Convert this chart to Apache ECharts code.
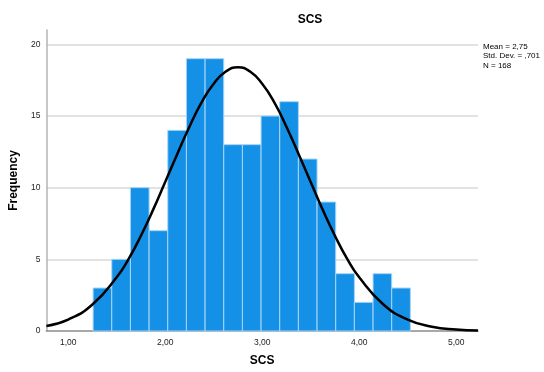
<!DOCTYPE html>
<html>
<head>
<meta charset="utf-8">
<script src="https://cdn.jsdelivr.net/npm/echarts@6/dist/echarts.min.js"></script>
<style>
  html, body { margin: 0; padding: 0; background: #fff; }
  #chart { width: 544px; height: 372px; }
</style>
</head>
<body>
<div id="chart"></div>
<script>
// histogram bins (lower edge of first bin, bin width) and counts
var binStart = 1.257;
var binWidth = 0.1924;
var counts = [3, 5, 10, 7, 14, 19, 19, 13, 13, 15, 16, 12, 9, 4, 2, 4, 3];

// normal curve
var curveX = [0.775, 1.0, 1.25, 1.5, 1.625, 1.75, 1.875, 2.0, 2.125, 2.25, 2.375, 2.5, 2.625, 2.75,
              2.875, 3.0, 3.125, 3.25, 3.375, 3.5, 3.625, 3.75, 3.875, 4.0, 4.25, 4.5, 4.75, 5.0, 5.225];
var curveY = [0.35, 0.8, 1.85, 3.75, 5.05, 6.65, 8.45, 10.4, 12.35, 14.25, 15.95, 17.25, 18.1, 18.4,
              18.1, 17.25, 15.95, 14.25, 12.35, 10.4, 8.45, 6.65, 5.05, 3.75, 1.85, 0.8, 0.3, 0.1, 0.03];

var xTicks = [1, 2, 3, 4, 5];
var yTicks = [0, 5, 10, 15, 20];
var stats = ['Mean = 2,75', 'Std. Dev. = ,701', 'N = 168'];

var bars = counts.map(function (c, i) {
  return [binStart + i * binWidth, binStart + (i + 1) * binWidth, c];
});
var curve = curveX.map(function (x, i) { return [x, curveY[i]]; });

var chart = echarts.init(document.getElementById('chart'));
var option = {
  animation: false,
  textStyle: { fontFamily: 'Liberation Sans, Arial, sans-serif' },
  title: {
    text: 'SCS',
    left: 305,
    top: 9,
    textAlign: 'center',
    textStyle: { fontSize: 12, fontWeight: 'bold', color: '#000' }
  },
  graphic: [{
    type: 'text',
    left: 483,
    top: 42,
    style: {
      text: stats.join('\n'),
      font: '8px Liberation Sans, Arial, sans-serif',
      fill: '#000',
      lineHeight: 9.5
    }
  }],
  grid: { left: 45, right: 66, top: 30, bottom: 40 },
  xAxis: {
    type: 'value',
    min: 0.775,
    max: 5.225,
    name: 'SCS',
    nameLocation: 'middle',
    nameGap: 24,
    nameTextStyle: { fontSize: 12, fontWeight: 'bold', color: '#000' },
    axisLine: { lineStyle: { color: '#8c8c8c', width: 1.5 } },
    axisTick: { show: false },
    splitLine: { show: false },
    axisLabel: {
      customValues: xTicks,
      fontSize: 8.5,
      color: '#222',
      margin: 7,
      formatter: function (v) { return v.toFixed(2).replace('.', ','); }
    }
  },
  yAxis: {
    type: 'value',
    min: 0,
    max: 21,
    interval: 5,
    name: 'Frequency',
    nameLocation: 'middle',
    nameGap: 22,
    nameTextStyle: { fontSize: 12, fontWeight: 'bold', color: '#000' },
    axisLine: { show: true, lineStyle: { color: '#b5b5b5', width: 1.5 } },
    axisTick: { show: false },
    axisLabel: { customValues: yTicks, fontSize: 8.5, color: '#222', margin: 6 },
    splitLine: {
      show: true,
      showMinLine: false,
      showMaxLine: false,
      lineStyle: { color: '#d9d9d9', width: 1.5 }
    }
  },
  series: [{
    type: 'custom',
    data: bars,
    renderItem: function (params, api) {
      var p0 = api.coord([api.value(0), api.value(2)]);
      var p1 = api.coord([api.value(1), 0]);
      return {
        type: 'rect',
        shape: { x: p0[0], y: p0[1], width: p1[0] - p0[0], height: p1[1] - p0[1] },
        style: { fill: '#1490e6', stroke: '#a9d5f6', lineWidth: 1 }
      };
    },
    z: 2
  }, {
    type: 'line',
    data: curve,
    smooth: true,
    symbol: 'none',
    lineStyle: { color: '#000', width: 2.5 },
    z: 3
  }]
};
chart.setOption(option);
window.onresize = function () {
  chart.resize();
};
</script>
</body>
</html>
